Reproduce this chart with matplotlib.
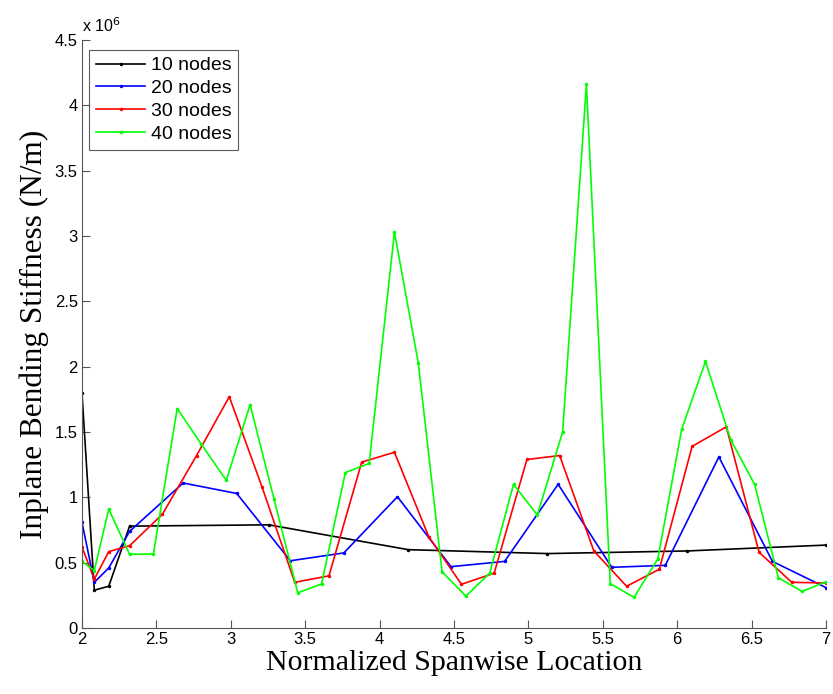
import matplotlib
matplotlib.use("Agg")
import matplotlib.pyplot as plt
from matplotlib.ticker import FixedLocator, FixedFormatter

# ---- data (values in units of 1e6 N/m) ----
x10 = [2.0, 2.083, 2.18, 2.32, 3.256, 4.192, 5.128, 6.064, 7.0]
y10 = [1.80, 0.29, 0.32, 0.78, 0.79, 0.60, 0.57, 0.59, 0.635]

x20 = [2.0, 2.083, 2.18, 2.32, 2.68, 3.04, 3.40, 3.76, 4.12, 4.48, 4.84,
       5.20, 5.56, 5.92, 6.28, 6.64, 7.0]
y20 = [0.81, 0.35, 0.46, 0.74, 1.11, 1.03, 0.515, 0.575, 1.005, 0.47, 0.51,
       1.10, 0.465, 0.48, 1.31, 0.51, 0.31]

x30 = [2.0, 2.083, 2.18, 2.32, 2.54, 2.77, 2.99, 3.21, 3.43, 3.66, 3.88,
       4.10, 4.33, 4.55, 4.77, 4.99, 5.21, 5.44, 5.66, 5.88, 6.10, 6.33,
       6.55, 6.77, 7.0]
y30 = [0.62, 0.375, 0.585, 0.63, 0.87, 1.32, 1.77, 1.08, 0.35, 0.40, 1.27,
       1.345, 0.70, 0.335, 0.42, 1.29, 1.32, 0.59, 0.32, 0.45, 1.39, 1.54,
       0.58, 0.35, 0.345]

x40 = [2.0, 2.083, 2.18, 2.32, 2.48, 2.64, 2.80, 2.97, 3.13, 3.29, 3.45,
       3.61, 3.77, 3.93, 4.10, 4.26, 4.42, 4.58, 4.74, 4.90, 5.06, 5.23,
       5.39, 5.55, 5.71, 5.87, 6.03, 6.19, 6.36, 6.52, 6.68, 6.84, 7.0]
y40 = [0.51, 0.44, 0.91, 0.565, 0.567, 1.68, 1.41, 1.13, 1.71, 0.99, 0.27,
       0.337, 1.19, 1.26, 3.03, 2.03, 0.43, 0.245, 0.42, 1.10, 0.865, 1.50,
       4.16, 0.34, 0.235, 0.53, 1.52, 2.04, 1.44, 1.10, 0.385, 0.28, 0.355]

series_labels = ["10 nodes", "20 nodes", "30 nodes", "40 nodes"]
xticks = [2, 2.5, 3, 3.5, 4, 4.5, 5, 5.5, 6, 6.5, 7]
xticklabels = ["2", "2.5", "3", "3.5", "4", "4.5", "5", "5.5", "6", "6.5", "7"]
yticks = [0, 0.5, 1, 1.5, 2, 2.5, 3, 3.5, 4, 4.5]
yticklabels = ["0", "0.5", "1", "1.5", "2", "2.5", "3", "3.5", "4", "4.5"]

SCALE = 1e6
colors = ["#000000", "#0000FF", "#FF0000", "#00FF00"]

fig = plt.figure(figsize=(8.33, 6.94), dpi=100)
ax = fig.add_axes([0.0984, 0.095, 0.8932, 0.8474])

sans = ["Liberation Sans", "Arial", "DejaVu Sans"]
serif = ["Liberation Serif", "Times New Roman", "DejaVu Serif"]

for xs, ys, c, lab in zip([x10, x20, x30, x40], [y10, y20, y30, y40], colors, series_labels):
    ax.plot(xs, [v * SCALE for v in ys], color=c, lw=1.2, marker='.', markersize=3, label=lab)

ax.set_xlim(2, 7)
ax.set_ylim(0, 4.5 * SCALE)
ax.xaxis.set_major_locator(FixedLocator(xticks))
ax.xaxis.set_major_formatter(FixedFormatter(xticklabels))
ax.yaxis.set_major_locator(FixedLocator([v * SCALE for v in yticks]))
ax.yaxis.set_major_formatter(FixedFormatter(yticklabels))

for sp in ["top", "right"]:
    ax.spines[sp].set_visible(False)
for sp in ["left", "bottom"]:
    ax.spines[sp].set_color("#555555")
    ax.spines[sp].set_linewidth(0.8)

ax.tick_params(direction='in', length=6, width=0.8, color="#555555", labelsize=12, pad=3)
for t in ax.get_xticklabels() + ax.get_yticklabels():
    t.set_family(sans)

ax.set_xlabel("Normalized Spanwise Location", family=serif, fontsize=21.5, labelpad=2)
ax.set_ylabel("Inplane Bending Stiffness (N/m)", family=serif, fontsize=22.5, labelpad=4)

ax.text(0.0, 1.008, r"x 10$^{6}$", transform=ax.transAxes, ha='left', va='bottom',
        fontsize=11.5, family=sans)

leg = ax.legend(loc='upper left', bbox_to_anchor=(0.010, 0.983), prop={'family': sans, 'size': 14},
                frameon=True, fancybox=False, edgecolor='#333333', handlelength=2.5,
                borderpad=0.35, labelspacing=0.27, handletextpad=0.3, borderaxespad=0.0)
leg.get_frame().set_linewidth(0.8)

fig.savefig("out.png", dpi=100)
